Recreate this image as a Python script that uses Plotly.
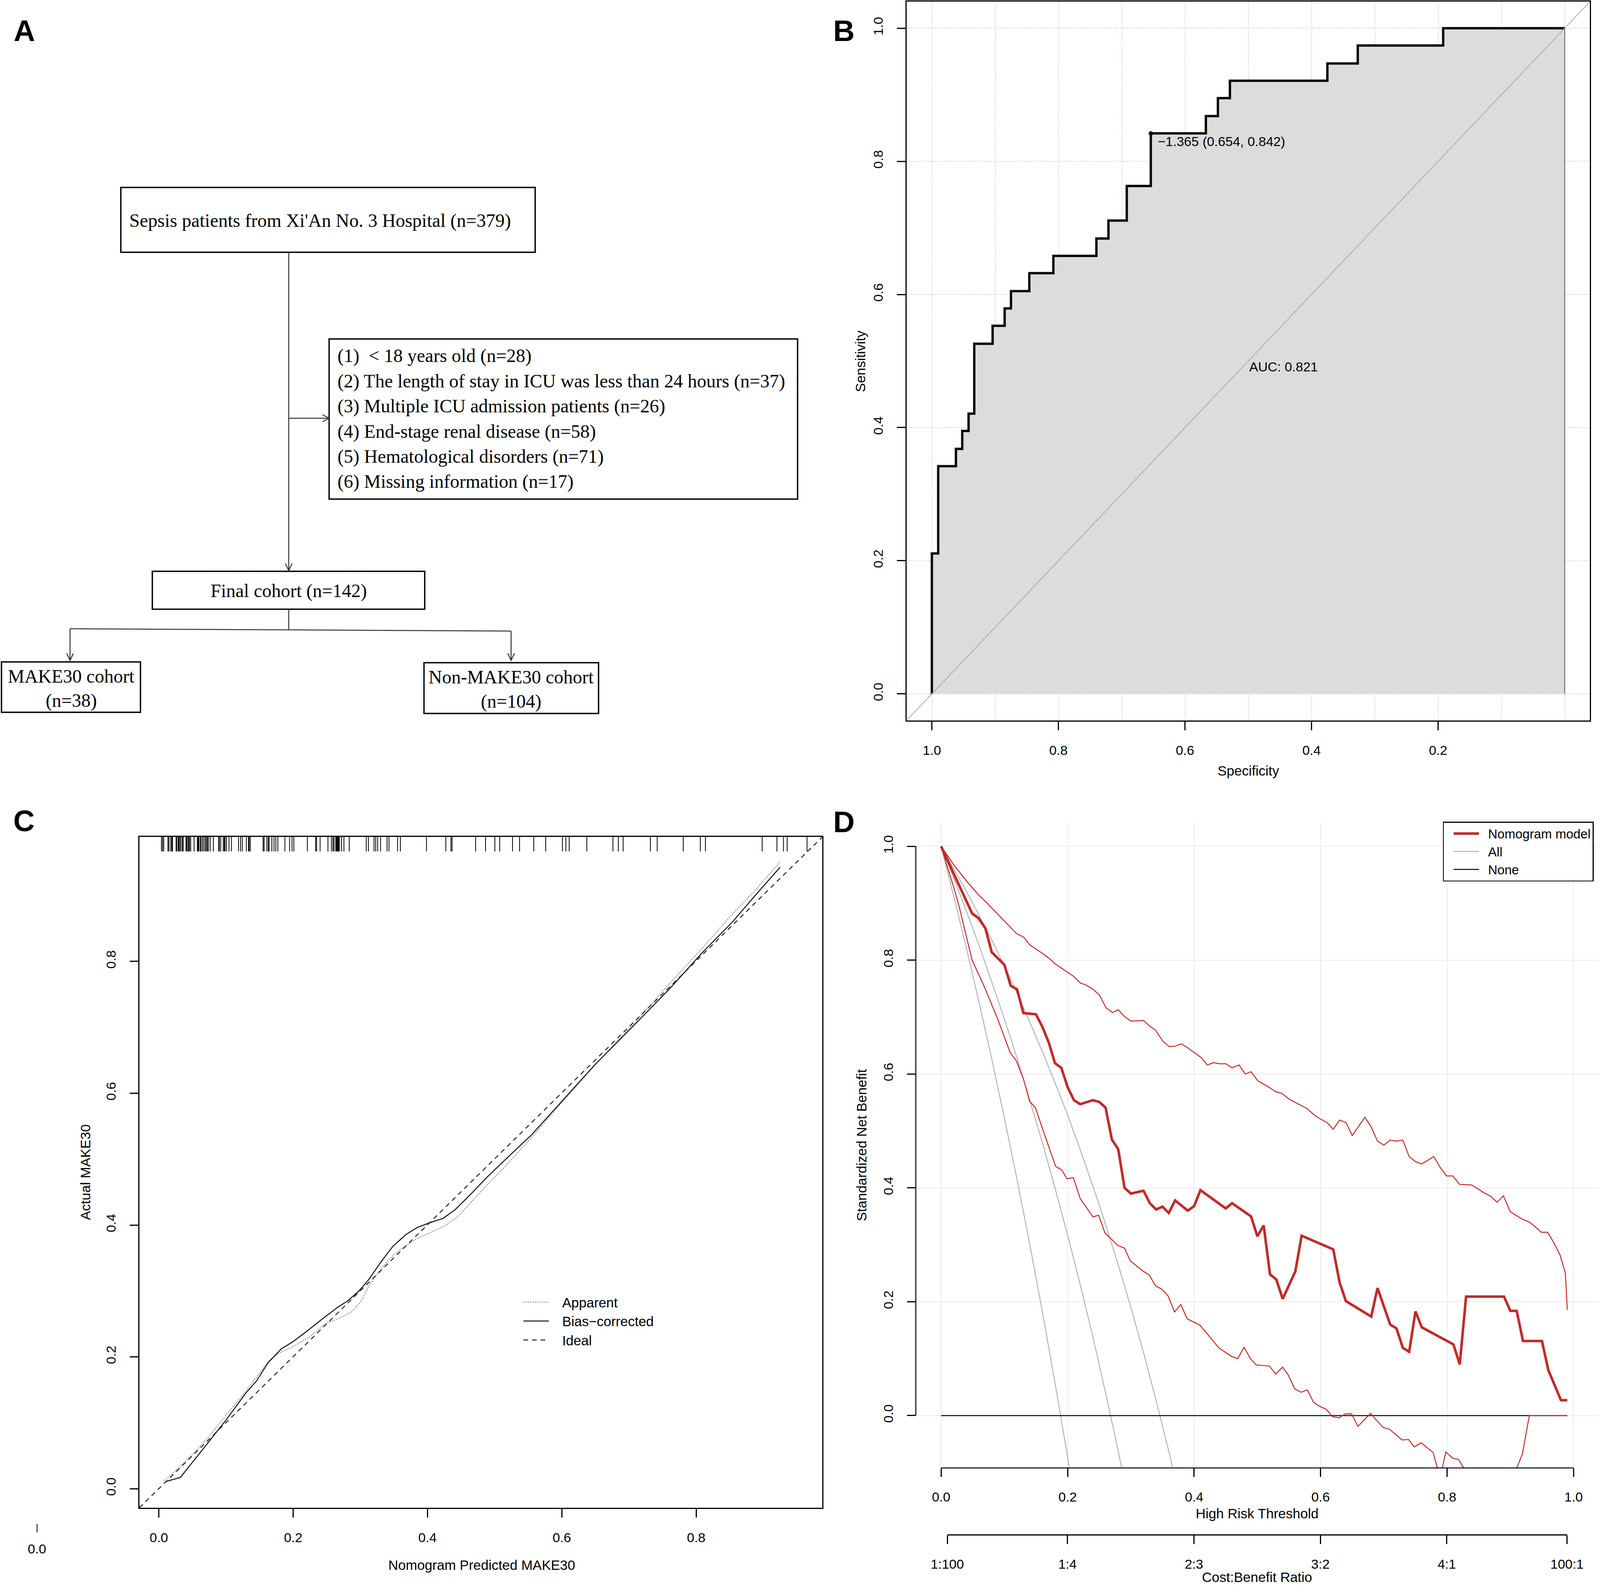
import plotly.graph_objects as go

W, H = 4317, 4069
SANS = "Liberation Sans, Arial, sans-serif"
SERIF = "Liberation Serif, Times New Roman, serif"
PAD = "\u00a0\u00a0\u00a0"
PAD2 = "\u00a0\u00a0"


def px(x):
    return x / W


def py(y):
    return 1 - y / H


# ---------------- panel B: ROC curve ----------------
roc_spec = [1.000, 1.000, 0.990, 0.990, 0.962, 0.962, 0.952, 0.952, 0.942, 0.942,
            0.933, 0.933, 0.904, 0.904, 0.885, 0.885, 0.875, 0.875, 0.846, 0.846,
            0.808, 0.808, 0.740, 0.740, 0.721, 0.721, 0.692, 0.692, 0.654, 0.654,
            0.567, 0.567, 0.548, 0.548, 0.529, 0.529, 0.375, 0.375, 0.327, 0.327,
            0.192, 0.192, 0.000]
roc_sens = [0.000, 0.211, 0.211, 0.342, 0.342, 0.368, 0.368, 0.395, 0.395, 0.421,
            0.421, 0.526, 0.526, 0.553, 0.553, 0.579, 0.579, 0.605, 0.605, 0.632,
            0.632, 0.658, 0.658, 0.684, 0.684, 0.711, 0.711, 0.763, 0.763, 0.842,
            0.842, 0.868, 0.868, 0.895, 0.895, 0.921, 0.921, 0.947, 0.947, 0.974,
            0.974, 1.000, 1.000]
cut_spec = [0.654]
cut_sens = [0.842]
cut_label = "\u22121.365 (0.654, 0.842)"
auc_label = "AUC: 0.821"

# ---------------- panel C: calibration ----------------
app_pred = [0.008, 0.030, 0.050, 0.0723, 0.1005, 0.1287, 0.1456, 0.1653, 0.1794, 0.1991,
            0.2245, 0.2470, 0.2695, 0.2865, 0.3006, 0.3118, 0.3259, 0.3428, 0.3597, 0.3822,
            0.4047, 0.4273, 0.4470, 0.4724, 0.4949, 0.5141, 0.555, 0.602, 0.650, 0.713,
            0.760, 0.808, 0.855, 0.887, 0.925]
app_obs = [0.012, 0.032, 0.052, 0.0760, 0.1123, 0.1470, 0.1697, 0.1954, 0.2060, 0.2150,
           0.2302, 0.2498, 0.2589, 0.2680, 0.2831, 0.3058, 0.3269, 0.3480, 0.3632, 0.3783,
           0.3889, 0.3994, 0.4145, 0.4432, 0.4674, 0.4871, 0.533, 0.588, 0.644, 0.712,
           0.766, 0.819, 0.873, 0.907, 0.951]
bias_pred = [0.011, 0.032, 0.0723, 0.1005, 0.1287, 0.1456, 0.1625, 0.1822, 0.1991, 0.2188,
             0.2414, 0.2667, 0.2808, 0.2977, 0.3118, 0.3315, 0.3484, 0.3681, 0.3850, 0.4047,
             0.4231, 0.4414, 0.4668, 0.4865, 0.5141, 0.555, 0.602, 0.650, 0.713, 0.760,
             0.808, 0.855, 0.887, 0.925]
bias_obs = [0.011, 0.017, 0.0685, 0.1047, 0.1440, 0.1637, 0.1909, 0.2120, 0.2226, 0.2377,
            0.2559, 0.2755, 0.2846, 0.2997, 0.3163, 0.3450, 0.3677, 0.3858, 0.3964, 0.4040,
            0.4100, 0.4236, 0.4493, 0.4704, 0.4976, 0.537, 0.590, 0.644, 0.709, 0.758,
            0.812, 0.861, 0.899, 0.943]
rug_pred = [0.0039, 0.0056, 0.0073, 0.0136, 0.0151, 0.0178, 0.0193, 0.0204, 0.0257, 0.0267,
            0.0288, 0.0299, 0.0314, 0.0331, 0.0352, 0.0362, 0.0405, 0.0415, 0.0432, 0.0447,
            0.0457, 0.0474, 0.0525, 0.0574, 0.0584, 0.0595, 0.0616, 0.0627, 0.0648, 0.0669,
            0.0690, 0.0707, 0.0722, 0.0737, 0.0764, 0.0812, 0.0891, 0.0901, 0.0922, 0.0960,
            0.0975, 0.0986, 0.1007, 0.1045, 0.1081, 0.1187, 0.1218, 0.1244, 0.1303, 0.1335,
            0.1345, 0.1362, 0.1552, 0.1567, 0.1609, 0.1630, 0.1641, 0.1683, 0.1715, 0.1742,
            0.1772, 0.1877, 0.1947, 0.1983, 0.2010, 0.2211, 0.2334, 0.2349, 0.2401, 0.2518,
            0.2570, 0.2592, 0.2608, 0.2634, 0.2644, 0.2655, 0.2666, 0.2676, 0.2687, 0.2718,
            0.2756, 0.2835, 0.3088, 0.3120, 0.3204, 0.3229, 0.3258, 0.3301, 0.3398, 0.3427,
            0.3554, 0.3596, 0.3985, 0.4273, 0.4349, 0.4366, 0.4716, 0.4864, 0.5003, 0.5075,
            0.5266, 0.5371, 0.5582, 0.5760, 0.6009, 0.6060, 0.6110, 0.6372, 0.6761, 0.6841,
            0.6913, 0.7319, 0.7420, 0.7808, 0.8062, 0.8138, 0.8983, 0.9203, 0.9300, 0.9355,
            0.9651]

# ---------------- panel D: decision curve ----------------
nomo_thr = [0.000, 0.049, 0.059, 0.070, 0.080, 0.100, 0.110, 0.120, 0.130, 0.150,
            0.160, 0.170, 0.180, 0.190, 0.200, 0.210, 0.220, 0.240, 0.250, 0.260,
            0.270, 0.280, 0.290, 0.300, 0.320, 0.330, 0.340, 0.350, 0.360, 0.370,
            0.380, 0.390, 0.400, 0.410, 0.450, 0.460, 0.490, 0.500, 0.510, 0.520,
            0.530, 0.540, 0.560, 0.570, 0.620, 0.630, 0.640, 0.680, 0.690, 0.710,
            0.720, 0.730, 0.740, 0.750, 0.760, 0.810, 0.820, 0.830, 0.890, 0.900,
            0.910, 0.920, 0.950, 0.960, 0.980, 0.990]
nomo_nb = [1.000, 0.882, 0.874, 0.856, 0.814, 0.792, 0.755, 0.749, 0.707, 0.705,
           0.683, 0.656, 0.619, 0.611, 0.577, 0.554, 0.547, 0.554, 0.551, 0.541,
           0.485, 0.468, 0.400, 0.390, 0.395, 0.373, 0.362, 0.367, 0.356, 0.378,
           0.369, 0.360, 0.368, 0.396, 0.364, 0.373, 0.350, 0.315, 0.334, 0.248,
           0.239, 0.205, 0.253, 0.316, 0.292, 0.234, 0.201, 0.174, 0.224, 0.160,
           0.153, 0.119, 0.112, 0.183, 0.155, 0.125, 0.090, 0.209, 0.209, 0.184,
           0.184, 0.131, 0.131, 0.080, 0.027, 0.027]
up_thr = [0.000, 0.021, 0.041, 0.059, 0.072, 0.100, 0.111, 0.119, 0.131, 0.140,
          0.160, 0.170, 0.181, 0.197, 0.209, 0.220, 0.230, 0.240, 0.250, 0.261,
          0.271, 0.280, 0.290, 0.300, 0.320, 0.330, 0.339, 0.351, 0.361, 0.370,
          0.380, 0.390, 0.400, 0.411, 0.421, 0.431, 0.440, 0.450, 0.460, 0.471,
          0.481, 0.490, 0.501, 0.518, 0.529, 0.539, 0.550, 0.579, 0.590, 0.598,
          0.610, 0.620, 0.630, 0.640, 0.650, 0.670, 0.680, 0.690, 0.700, 0.710,
          0.720, 0.730, 0.740, 0.750, 0.760, 0.779, 0.789, 0.799, 0.809, 0.820,
          0.839, 0.859, 0.869, 0.879, 0.889, 0.900, 0.919, 0.930, 0.939, 0.949,
          0.959, 0.969, 0.979, 0.987, 0.990]
up_nb = [1.000, 0.966, 0.938, 0.915, 0.901, 0.869, 0.856, 0.847, 0.840, 0.827,
         0.812, 0.804, 0.793, 0.781, 0.772, 0.760, 0.756, 0.749, 0.739, 0.716,
         0.708, 0.713, 0.701, 0.693, 0.694, 0.684, 0.677, 0.657, 0.648, 0.649,
         0.653, 0.646, 0.638, 0.629, 0.616, 0.620, 0.618, 0.618, 0.611, 0.616,
         0.600, 0.604, 0.588, 0.577, 0.569, 0.566, 0.556, 0.539, 0.528, 0.522,
         0.515, 0.503, 0.519, 0.515, 0.492, 0.524, 0.507, 0.482, 0.475, 0.484,
         0.482, 0.484, 0.455, 0.446, 0.442, 0.455, 0.436, 0.421, 0.421, 0.406,
         0.405, 0.391, 0.385, 0.375, 0.386, 0.358, 0.345, 0.340, 0.332, 0.322,
         0.322, 0.303, 0.281, 0.250, 0.186]
lo_thr = [0.000, 0.021, 0.029, 0.049, 0.059, 0.070, 0.090, 0.100, 0.109, 0.119,
          0.130, 0.140, 0.149, 0.160, 0.181, 0.191, 0.199, 0.209, 0.220, 0.229,
          0.240, 0.249, 0.259, 0.270, 0.279, 0.290, 0.299, 0.319, 0.329, 0.339,
          0.349, 0.359, 0.369, 0.379, 0.389, 0.409, 0.419, 0.439, 0.459, 0.469,
          0.479, 0.489, 0.498, 0.519, 0.529, 0.540, 0.549, 0.559, 0.569, 0.579,
          0.589, 0.599, 0.609, 0.619, 0.629, 0.639, 0.649, 0.659, 0.679, 0.689,
          0.699, 0.709, 0.729, 0.739, 0.748, 0.759, 0.778, 0.789, 0.798, 0.809,
          0.818, 0.828, 0.840, 0.900, 0.909, 0.919, 0.930, 0.990]
lo_nb = [1.000, 0.924, 0.892, 0.800, 0.776, 0.749, 0.695, 0.665, 0.638, 0.623,
         0.592, 0.552, 0.541, 0.505, 0.438, 0.431, 0.416, 0.418, 0.381, 0.367,
         0.349, 0.352, 0.321, 0.309, 0.299, 0.294, 0.272, 0.254, 0.247, 0.228,
         0.222, 0.210, 0.182, 0.195, 0.170, 0.159, 0.146, 0.119, 0.104, 0.100,
         0.120, 0.100, 0.089, 0.087, 0.073, 0.085, 0.071, 0.047, 0.041, 0.045,
         0.023, 0.016, 0.011, -0.002, -0.004, 0.003, 0.003, -0.019, 0.004, -0.009,
         -0.021, -0.024, -0.043, -0.042, -0.055, -0.048, -0.065, -0.110, -0.064, -0.075,
         -0.077, -0.095, -0.130, -0.130, -0.095, -0.068, 0.000, 0.000]
all_lo_thr = [0.00, 0.02, 0.04, 0.06, 0.08, 0.10, 0.12, 0.14, 0.16, 0.18, 0.20, 0.21]
all_lo_nb = [1.000, 0.912, 0.821, 0.726, 0.627, 0.523, 0.415, 0.302, 0.183, 0.058, -0.073, -0.140]
all_thr = [0.00, 0.02, 0.04, 0.06, 0.08, 0.10, 0.12, 0.14, 0.16, 0.18, 0.20, 0.22, 0.24,
           0.26, 0.28, 0.30]
all_nb = [1.000, 0.944, 0.886, 0.826, 0.762, 0.697, 0.628, 0.555, 0.480, 0.400, 0.317, 0.230,
          0.138, 0.040, -0.062, -0.170]
all_hi_thr = [0.00, 0.02, 0.04, 0.06, 0.08, 0.10, 0.12, 0.14, 0.16, 0.18, 0.20, 0.22, 0.24,
              0.26, 0.28, 0.30, 0.32, 0.34, 0.36, 0.38]
all_hi_nb = [1.000, 0.961, 0.921, 0.879, 0.836, 0.790, 0.742, 0.692, 0.640, 0.585, 0.528, 0.467,
             0.403, 0.336, 0.265, 0.190, 0.111, 0.026, -0.063, -0.158]
none_thr = [0.0, 0.99]
none_nb = [0.0, 0.0]
cb_pos = [0.0099, 0.2, 0.4, 0.6, 0.8, 0.9901]
cb_labels = ["1:100", "1:4", "2:3", "3:2", "4:1", "100:1"]

# ---------------- panel A: flowchart text ----------------
top_text = "Sepsis patients from Xi'An No. 3 Hospital (n=379)"
excl_text = [
    "(1) \u00a0< 18 years old (n=28)",
    "(2) The length of stay in ICU was less than 24 hours (n=37)",
    "(3) Multiple ICU admission patients (n=26)",
    "(4) End-stage renal disease (n=58)",
    "(5) Hematological disorders (n=71)",
    "(6) Missing information (n=17)",
]
final_text = "Final cohort (n=142)"
make_text = ["MAKE30 cohort", "(n=38)"]
non_text = ["Non-MAKE30 cohort", "(n=104)"]

RED = "#C12A2A"
GRAY = "#B4B4B4"

fig = go.Figure()

# ROC (x/y)
fig.add_trace(go.Scatter(x=roc_spec + [0.0], y=roc_sens + [0.0], fill="toself",
                         fillcolor="#DCDCDC", mode="lines",
                         line=dict(color="#333333", width=1.5),
                         xaxis="x", yaxis="y", showlegend=False, hoverinfo="skip"))
fig.add_trace(go.Scatter(x=roc_spec, y=roc_sens, mode="lines",
                         line=dict(color="black", width=6),
                         xaxis="x", yaxis="y", showlegend=False))
fig.add_trace(go.Scatter(x=cut_spec, y=cut_sens, mode="markers",
                         marker=dict(color="black", size=11),
                         xaxis="x", yaxis="y", showlegend=False))

# calibration (x2/y2)
rug_x, rug_y = [], []
for v in rug_pred:
    rug_x += [v, v, None]
    rug_y += [0.989, 0.967, None]
fig.add_trace(go.Scatter(x=rug_x, y=rug_y, mode="lines",
                         line=dict(color="black", width=2),
                         xaxis="x2", yaxis="y2", showlegend=False, hoverinfo="skip"))
fig.add_trace(go.Scatter(x=app_pred, y=app_obs, mode="lines", name=PAD + "Apparent",
                         line=dict(color="#8C8C8C", width=2.5, dash="dot"),
                         xaxis="x2", yaxis="y2", legend="legend", legendrank=1))
fig.add_trace(go.Scatter(x=bias_pred, y=bias_obs, mode="lines",
                         name=PAD + "Bias\u2212corrected",
                         line=dict(color="#111111", width=2.5),
                         xaxis="x2", yaxis="y2", legend="legend", legendrank=2))

# decision curve (x3/y3)
for xs, ys, show in [(all_lo_thr, all_lo_nb, False), (all_thr, all_nb, True),
                     (all_hi_thr, all_hi_nb, False)]:
    fig.add_trace(go.Scatter(x=xs, y=ys, mode="lines", name=PAD2 + "All",
                             line=dict(color=GRAY, width=2.5),
                             xaxis="x3", yaxis="y3", legend="legend2",
                             showlegend=show, legendrank=2))
fig.add_trace(go.Scatter(x=none_thr, y=none_nb, mode="lines", name=PAD2 + "None",
                         line=dict(color="black", width=2.5),
                         xaxis="x3", yaxis="y3", legend="legend2", legendrank=3))
fig.add_trace(go.Scatter(x=up_thr, y=up_nb, mode="lines", showlegend=False,
                         line=dict(color=RED, width=2.5), xaxis="x3", yaxis="y3"))
fig.add_trace(go.Scatter(x=lo_thr, y=lo_nb, mode="lines", showlegend=False,
                         line=dict(color=RED, width=2.5), xaxis="x3", yaxis="y3"))
fig.add_trace(go.Scatter(x=nomo_thr, y=nomo_nb, mode="lines",
                         name=PAD2 + "Nomogram model",
                         line=dict(color=RED, width=6.5),
                         xaxis="x3", yaxis="y3", legend="legend2", legendrank=1))
# holder for the cost:benefit axis
fig.add_trace(go.Scatter(x=[], y=[], xaxis="x4", yaxis="y4", showlegend=False))

tickfont = dict(family=SANS, size=34, color="black")
common = dict(ticks="outside", ticklen=22, tickwidth=2.5, tickcolor="black",
              tickfont=tickfont, zeroline=False, ticklabelstandoff=22,
              automargin=False)

fig.update_layout(
    width=W, height=H, autosize=False,
    margin=dict(l=0, r=0, t=0, b=0, pad=0, autoexpand=False),
    paper_bgcolor="white", plot_bgcolor="white",
    font=dict(family=SANS, color="black"),
    xaxis=dict(domain=[px(2446), px(4290)], range=[1.04, -0.04], anchor="y",
               tickvals=[1.0, 0.8, 0.6, 0.4, 0.2],
               ticktext=["1.0", "0.8", "0.6", "0.4", "0.2"],
               showline=True, mirror=True, linecolor="black", linewidth=2.5,
               showgrid=True, gridcolor="#D0D0D0", gridwidth=2, griddash="dot",
               minor=dict(tickvals=[0.0, 0.1, 0.3, 0.5, 0.7, 0.9], showgrid=True,
                          gridcolor="#D0D0D0", gridwidth=2, griddash="dot", ticks=""),
               **common),
    yaxis=dict(domain=[py(1845), py(4)], range=[-0.04, 1.04], anchor="x",
               tickvals=[0.0, 0.2, 0.4, 0.6, 0.8, 1.0],
               ticktext=["0.0", "0.2", "0.4", "0.6", "0.8", "1.0"], tickangle=-90,
               showline=True, mirror=True, linecolor="black", linewidth=2.5,
               showgrid=True, gridcolor="#D0D0D0", gridwidth=2, griddash="dot",
               **common),
    xaxis2=dict(domain=[px(376), px(2219)], range=[-0.029, 0.988], anchor="y2",
                tickvals=[0.0, 0.2, 0.4, 0.6, 0.8],
                ticktext=["0.0", "0.2", "0.4", "0.6", "0.8"],
                showline=True, mirror=True, linecolor="black", linewidth=2.5,
                showgrid=False, **common),
    yaxis2=dict(domain=[py(3861), py(2143)], range=[-0.029, 0.989], anchor="x2",
                tickvals=[0.0, 0.2, 0.4, 0.6, 0.8],
                ticktext=["0.0", "0.2", "0.4", "0.6", "0.8"], tickangle=-90,
                showline=True, mirror=True, linecolor="black", linewidth=2.5,
                showgrid=False, **common),
    xaxis3=dict(domain=[px(2471), px(4314)], range=[-0.04, 1.04], anchor="y3",
                tickvals=[0.0, 0.2, 0.4, 0.6, 0.8, 1.0],
                ticktext=["0.0", "0.2", "0.4", "0.6", "0.8", "1.0"],
                showline=False, showgrid=True, gridcolor="#EBEBEB", gridwidth=2,
                **common),
    yaxis3=dict(domain=[py(3759), py(2106)], range=[-0.092, 1.042], anchor="x3",
                tickvals=[0.0, 0.2, 0.4, 0.6, 0.8, 1.0],
                ticktext=["0.0", "0.2", "0.4", "0.6", "0.8", "1.0"], tickangle=-90,
                showline=False, showgrid=True, gridcolor="#EBEBEB", gridwidth=2,
                **common),
    xaxis4=dict(domain=[px(2556), px(4228)], range=[0.0099, 0.9901], anchor="y4",
                tickvals=cb_pos, ticktext=cb_labels, showline=True, linecolor="black",
                linewidth=2.5, showgrid=False, **common),
    yaxis4=dict(domain=[py(3929), py(3929) + 0.001], anchor="x4", visible=False,
                range=[0, 1]),
    legend=dict(x=px(1407), y=py(3305), xanchor="left", yanchor="top",
                bgcolor="rgba(0,0,0,0)", borderwidth=0, itemwidth=65,
                font=dict(family=SANS, size=35, color="black"), tracegroupgap=0),
    legend2=dict(x=px(3893), y=py(2104), xanchor="left", yanchor="top",
                 bgcolor="white", bordercolor="black", borderwidth=2.5, itemwidth=65,
                 indentation=20,
                 font=dict(family=SANS, size=33, color="black"), tracegroupgap=0),
)

shapes = []
annotations = []

# ROC diagonal and calibration ideal line
shapes.append(dict(type="line", xref="x domain", yref="y domain", x0=0, y0=0, x1=1, y1=1,
                   line=dict(color="#A9A9A9", width=2), layer="above"))
shapes.append(dict(type="line", xref="x2 domain", yref="y2 domain", x0=0, y0=0, x1=1, y1=1,
                   line=dict(color="#222222", width=2.5, dash="12px,10px"),
                   name=PAD + "Ideal", showlegend=True, legend="legend", legendrank=3))
# decision-curve axis lines (R style, only over the tick range)
shapes.append(dict(type="line", xref="x3", yref="y3 domain", x0=0, x1=1, y0=0, y1=0,
                   line=dict(color="black", width=2.5)))
shapes.append(dict(type="line", xref="x3 domain", yref="y3", x0=0, x1=0, y0=0, y1=1,
                   line=dict(color="black", width=2.5)))


# flowchart
def rect(x0, y0, x1, y1):
    return dict(type="rect", xref="paper", yref="paper", x0=px(x0), x1=px(x1),
                y0=py(y1), y1=py(y0), line=dict(color="black", width=3.5),
                fillcolor="rgba(0,0,0,0)")


def seg(x0, y0, x1, y1):
    return dict(type="line", xref="paper", yref="paper", x0=px(x0), y0=py(y0),
                x1=px(x1), y1=py(y1), line=dict(color="#333333", width=2.5))


def head(x, y, d):
    if d == "down":
        pts = [(x - 9, y - 18), (x, y), (x + 9, y - 18)]
    else:
        pts = [(x - 18, y - 9), (x, y), (x - 18, y + 9)]
    path = "M {} {} L {} {} L {} {}".format(
        px(pts[0][0]), py(pts[0][1]), px(pts[1][0]), py(pts[1][1]),
        px(pts[2][0]), py(pts[2][1]))
    return dict(type="path", xref="paper", yref="paper", path=path,
                line=dict(color="#333333", width=2.5))


shapes += [rect(326, 480, 1444, 646), rect(888, 868, 2152, 1278),
           rect(411, 1463, 1146, 1560), rect(4, 1695, 379, 1824),
           rect(1144, 1697, 1615, 1827)]
shapes += [seg(779, 646, 779, 1461), head(779, 1461, "down"),
           seg(779, 1071, 888, 1071), head(888, 1071, "right"),
           seg(779, 1560, 779, 1612), seg(189, 1610, 1379, 1616),
           seg(189, 1610, 189, 1691), head(189, 1691, "down"),
           seg(1379, 1616, 1379, 1691), head(1379, 1691, "down")]

# stray tick under panel C
shapes.append(dict(type="line", xref="paper", yref="paper", x0=px(100), x1=px(100),
                   y0=py(3924), y1=py(3902), line=dict(color="black", width=2)))

fig.update_layout(shapes=shapes)


def note(text, x, y, size=34, family=SANS, xanchor="center", yanchor="middle",
         angle=0):
    annotations.append(dict(text=text, x=px(x), y=py(y), xref="paper", yref="paper",
                            showarrow=False, xanchor=xanchor, yanchor=yanchor,
                            textangle=angle,
                            font=dict(family=family, size=size, color="black")))


ft = 48
note(top_text, 347, 565, ft, SERIF, xanchor="left")
for i, t in enumerate(excl_text):
    note(t, 908, 911 + 64.5 * i, ft, SERIF, xanchor="left")
note(final_text, 779, 1513, ft, SERIF)
note(make_text[0], 192, 1731, ft, SERIF)
note(make_text[1], 192, 1794, ft, SERIF)
note(non_text[0], 1379, 1733, ft, SERIF)
note(non_text[1], 1379, 1796, ft, SERIF)

# panel letters
for letter, lx, ly in [("A", 66, 79), ("B", 2277, 79), ("C", 65, 2101), ("D", 2277, 2104)]:
    note("<b>%s</b>" % letter, lx, ly, 76)

# axis titles
note("Specificity", 3368, 1973, 35)
note("Sensitivity", 2322, 925, 35, angle=-90)
note("Nomogram Predicted MAKE30", 1300, 4007, 35)
note("Actual MAKE30", 230, 3002, 35, angle=-90)
note("High Risk Threshold", 3392, 3875, 35)
note("Cost:Benefit Ratio", 3392, 4038, 35)
note("Standardized Net Benefit", 2324, 2933, 35, angle=-90)
note("0.0", 100, 3966, 34)

# ROC labels in data coordinates
annotations.append(dict(text=cut_label, x=cut_spec[0], y=cut_sens[0], xref="x", yref="y",
                        showarrow=False, xanchor="left", yanchor="middle",
                        xshift=16, yshift=-20, font=dict(family=SANS, size=34)))
annotations.append(dict(text=auc_label, x=0.5, y=0.5, xref="x", yref="y",
                        showarrow=False, xanchor="left", yanchor="middle",
                        yshift=-14, font=dict(family=SANS, size=34)))

fig.update_layout(annotations=annotations)

# fit the figure to the actual browser viewport (no page margin, no scrollbars)
fit_js = """
document.documentElement.style.margin = '0';
document.documentElement.style.overflow = 'hidden';
document.body.style.margin = '0';
document.body.style.overflow = 'hidden';
var gd = document.getElementById('{plot_id}');
var w = window.innerWidth, h = window.innerHeight;
if (w > 100 && h > 100) {
    gd.style.width = w + 'px';
    gd.style.height = h + 'px';
    Plotly.relayout(gd, {width: w, height: h});
}
"""

fig.write_html("out.html", post_script=fit_js, config={"displayModeBar": False})
